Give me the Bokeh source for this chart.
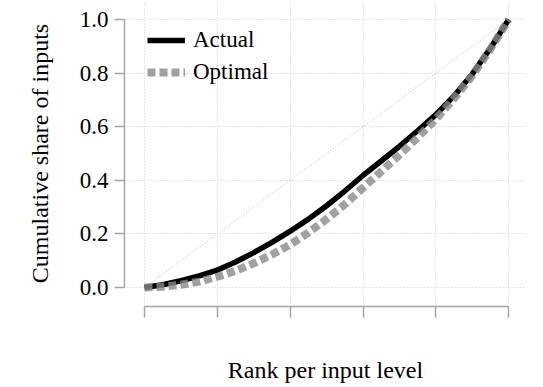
from bokeh.plotting import figure
from bokeh.models import FixedTicker, Legend, LegendItem
from bokeh.embed import file_html
from bokeh.resources import INLINE

# ---- data ----
rank = [0.00, 0.05, 0.10, 0.15, 0.20, 0.25, 0.30, 0.35, 0.40, 0.45, 0.50,
        0.55, 0.60, 0.65, 0.70, 0.75, 0.80, 0.85, 0.90, 0.95, 1.00]
actual = [0.000, 0.010, 0.025, 0.043, 0.065, 0.095, 0.130, 0.168, 0.210, 0.255, 0.305,
          0.360, 0.418, 0.472, 0.527, 0.585, 0.645, 0.715, 0.797, 0.893, 1.000]
optimal = [0.000, 0.003, 0.010, 0.022, 0.040, 0.062, 0.090, 0.123, 0.160, 0.205, 0.255,
           0.310, 0.372, 0.433, 0.495, 0.560, 0.628, 0.705, 0.790, 0.890, 1.000]
diag_x = [0.0, 1.0]
diag_y = [0.0, 1.0]
x_ticks = [0.0, 0.2, 0.4, 0.6, 0.8, 1.0]
y_ticks = [0.0, 0.2, 0.4, 0.6, 0.8, 1.0]
y_tick_labels = ["0.0", "0.2", "0.4", "0.6", "0.8", "1.0"]

FONT = "Liberation Serif"
AXIS_GRAY = "#a6a6a6"
GRID_GRAY = "#cfcfcf"

p = figure(width=543, height=387,
           x_range=(-0.055, 1.049), y_range=(-0.071, 1.071),
           output_backend="svg", toolbar_location=None,
           min_border_left=124, min_border_right=17,
           min_border_top=0, min_border_bottom=81)
p.outline_line_color = None
p.background_fill_color = "white"
p.border_fill_color = "white"

# grid
for g in (p.xgrid, p.ygrid):
    g.grid_line_color = GRID_GRAY
    g.grid_line_dash = "1 2"
    g.grid_line_width = 1
p.xgrid.ticker = FixedTicker(ticks=x_ticks)
p.ygrid.ticker = FixedTicker(ticks=y_ticks)

# axes
xa = p.xaxis[0]
xa.ticker = FixedTicker(ticks=x_ticks)
xa.bounds = (0, 1)
xa.major_label_overrides = {t: "" for t in x_ticks}
xa.axis_label = "Rank per input level"
ya = p.yaxis[0]
ya.ticker = FixedTicker(ticks=y_ticks)
ya.bounds = (0, 1)
ya.major_label_overrides = {t: s for t, s in zip(y_ticks, y_tick_labels)}
ya.axis_label = "Cumulative share of inputs"
for ax in (xa, ya):
    ax.axis_line_color = AXIS_GRAY
    ax.axis_line_width = 1.5
    ax.major_tick_line_color = AXIS_GRAY
    ax.major_tick_line_width = 1.5
    ax.major_tick_in = 0
    ax.minor_tick_line_color = None
    ax.major_label_text_font = FONT
    ax.major_label_text_font_size = "23px"
    ax.major_label_text_color = "black"
    ax.axis_label_text_font = FONT
    ax.axis_label_text_font_size = "24px"
    ax.axis_label_text_font_style = "normal"
    ax.axis_label_text_color = "black"
xa.major_tick_out = 11
ya.major_tick_out = 10
xa.major_label_standoff = 0
xa.axis_label_standoff = 39
ya.major_label_standoff = 6
ya.axis_label_standoff = 24

# diagonal reference
p.line(diag_x, diag_y, line_color="#bdbdbd", line_dash="1 2", line_width=1)

# curves
r_act = p.line(rank, actual, line_color="black", line_width=5.5)
r_opt = p.line(rank, optimal, line_color="#8a8a8a", line_alpha=0.8,
               line_width=8, line_dash="8 4")

legend = Legend(items=[LegendItem(label="Actual", renderers=[r_act]),
                       LegendItem(label="Optimal", renderers=[r_opt])],
                location=(23, 221))
legend.border_line_color = None
legend.background_fill_alpha = 0
legend.margin = 0
legend.padding = 0
legend.spacing = 6
legend.glyph_width = 38
legend.glyph_height = 26
legend.label_height = 26
legend.label_standoff = 8
legend.label_text_font = FONT
legend.label_text_font_size = "23px"
legend.label_text_color = "black"
p.add_layout(legend)

open("out.html", "w").write(file_html(p, INLINE))
